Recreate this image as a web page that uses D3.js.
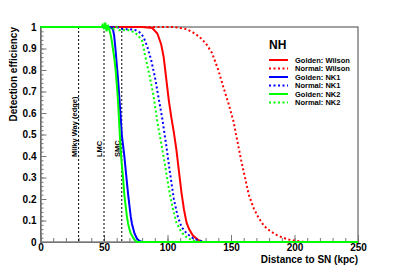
<!DOCTYPE html>
<html>
<head>
<meta charset="utf-8">
<script src="https://cdn.jsdelivr.net/npm/d3@7"></script>
<style>
body { margin: 0; background: #fff; }
text { font-family: "Liberation Sans", Arial, sans-serif; font-weight: bold; }
</style>
</head>
<body>
<script>
// efficiency curves, distance in kpc
var goldenWilsonX = [0, 80, 88, 92, 95, 97, 99, 101, 103, 105, 107, 109, 111, 113, 115, 117, 120, 124, 128, 250];
var goldenWilsonY = [1, 1, 0.995, 0.97, 0.92, 0.86, 0.76, 0.66, 0.58, 0.51, 0.43, 0.33, 0.23, 0.15, 0.09, 0.06, 0.03, 0.01, 0, 0];

var normalWilsonX = [0, 105, 115, 120, 125, 130, 135, 140, 144, 148, 152, 155, 158, 161, 164, 168, 172, 176, 180, 185, 190, 195, 200, 205, 210, 250];
var normalWilsonY = [1, 1, 0.99, 0.975, 0.955, 0.925, 0.88, 0.8, 0.72, 0.645, 0.56, 0.47, 0.38, 0.3, 0.22, 0.155, 0.11, 0.075, 0.055, 0.035, 0.022, 0.012, 0.006, 0.002, 0, 0];

var goldenNK1X = [0, 55, 57, 58, 59, 60, 61, 62, 63, 64, 65, 66, 67, 68, 69, 70, 71, 72, 74, 76, 78, 80, 250];
var goldenNK1Y = [1, 1, 0.99, 0.96, 0.9, 0.83, 0.76, 0.68, 0.59, 0.5, 0.45, 0.4, 0.34, 0.28, 0.22, 0.17, 0.12, 0.085, 0.04, 0.015, 0.005, 0, 0];

var normalNK1X = [0, 60, 65, 70, 75, 78, 81, 84, 87, 90, 93, 96, 99, 102, 105, 108, 111, 115, 120, 125, 130, 250];
var normalNK1Y = [1, 1, 0.99, 0.99, 0.985, 0.975, 0.955, 0.91, 0.85, 0.77, 0.67, 0.57, 0.45, 0.32, 0.2, 0.12, 0.07, 0.04, 0.018, 0.006, 0, 0];

var goldenNK2X = [0, 48, 49, 50, 51, 52, 53, 54, 55, 56, 57, 58, 59, 60, 61, 62, 63, 64, 65, 66, 67, 68, 69, 70, 71, 72, 73, 74, 76, 250];
var goldenNK2Y = [1, 1, 1.01, 0.99, 1.02, 0.98, 1.01, 0.99, 0.97, 0.94, 0.9, 0.86, 0.81, 0.74, 0.66, 0.55, 0.44, 0.36, 0.3, 0.22, 0.17, 0.12, 0.085, 0.06, 0.04, 0.03, 0.02, 0.01, 0, 0];

var normalNK2X = [0, 50, 52, 54, 56, 58, 60, 62, 64, 66, 70, 74, 77, 80, 83, 86, 89, 92, 95, 98, 101, 104, 107, 111, 115, 120, 125, 250];
var normalNK2Y = [1, 1, 1.01, 0.99, 1.0, 0.99, 1.0, 0.985, 0.99, 0.985, 0.985, 0.975, 0.96, 0.935, 0.85, 0.77, 0.68, 0.56, 0.46, 0.36, 0.25, 0.16, 0.09, 0.045, 0.022, 0.005, 0, 0];

var markerX = [30, 50, 64];
var markerNames = ["Milky Way (edge)", "LMC", "SMC"];

var legendNames = ["Golden: Wilson", "Normal: Wilson", "Golden: NK1", "Normal: NK1", "Golden: NK2", "Normal: NK2"];

var xTicks = [0, 50, 100, 150, 200, 250];
var yTicks = [0, 0.1, 0.2, 0.3, 0.4, 0.5, 0.6, 0.7, 0.8, 0.9, 1];

var width = 398, height = 270;

var svg = d3.select("body").append("svg")
    .attr("width", width)
    .attr("height", height);

var x = d3.scaleLinear().domain([0, 250]).range([40.5, 358]);
var y = d3.scaleLinear().domain([0, 1]).range([242, 27]);

// frame
svg.append("rect")
    .attr("x", x(0)).attr("y", y(1))
    .attr("width", x(250) - x(0)).attr("height", y(0) - y(1))
    .attr("fill", "none").attr("stroke", "#444").attr("stroke-width", 1);

// minor ticks
var xMinor = svg.append("g").attr("transform", "translate(0," + y(0) + ")")
    .call(d3.axisBottom(x).tickValues(d3.range(0, 251, 10)).tickSize(-4).tickFormat(""));
var yMinor = svg.append("g").attr("transform", "translate(" + x(0) + ",0)")
    .call(d3.axisLeft(y).tickValues(d3.range(0, 1.001, 0.02)).tickSize(-3).tickFormat(""));

var xAxis = svg.append("g").attr("transform", "translate(0," + y(0) + ")")
    .call(d3.axisBottom(x).tickValues(xTicks).tickSize(-7).tickPadding(2).tickFormat(d3.format("d")));
var yAxis = svg.append("g").attr("transform", "translate(" + x(0) + ",0)")
    .call(d3.axisLeft(y).tickValues(yTicks).tickSize(-6).tickPadding(4).tickFormat(function (d) { return d === 0 || d === 1 ? d3.format("d")(d) : d3.format(".1f")(d); }));

[xMinor, yMinor, xAxis, yAxis].forEach(function (g) {
    g.select(".domain").attr("stroke", "#777");
    g.selectAll(".tick line").attr("stroke", "#777");
});
[xAxis, yAxis].forEach(function (g) {
    g.selectAll(".tick text").attr("fill", "#000").style("font-size", "10px").style("font-family", "Liberation Sans").style("font-weight", "bold");
});
xAxis.selectAll(".tick text").attr("dy", "0.71em");

// axis titles
svg.append("text")
    .attr("x", 358).attr("y", 263)
    .attr("text-anchor", "end")
    .style("font-size", "10px")
    .text("Distance to SN (kpc)");

svg.append("text")
    .attr("transform", "translate(17," + y(1) + ") rotate(-90)")
    .attr("text-anchor", "end")
    .style("font-size", "10px")
    .text("Detection efficiency");

// reference distances
var markers = svg.append("g");
markerX.forEach(function (d, i) {
    markers.append("line")
        .attr("x1", x(d)).attr("x2", x(d))
        .attr("y1", y(1)).attr("y2", y(0))
        .attr("stroke", "#000").attr("stroke-width", 1)
        .attr("stroke-dasharray", "2,2");
    markers.append("text")
        .attr("transform", "translate(" + (x(d) - 2) + "," + y(0.395) + ") rotate(-90)")
        .style("font-size", "7.5px")
        .text(markerNames[i]);
});

var series = [
    { xs: goldenWilsonX, ys: goldenWilsonY, color: "#ff0000", dash: null },
    { xs: normalWilsonX, ys: normalWilsonY, color: "#ff0000", dash: "2,2.5" },
    { xs: goldenNK1X, ys: goldenNK1Y, color: "#0000ff", dash: null },
    { xs: normalNK1X, ys: normalNK1Y, color: "#0000ff", dash: "2,2.5" },
    { xs: goldenNK2X, ys: goldenNK2Y, color: "#00ff00", dash: null },
    { xs: normalNK2X, ys: normalNK2Y, color: "#00ff00", dash: "2,2.5" }
];

var line = d3.line()
    .x(function (d) { return x(d[0]); })
    .y(function (d) { return y(d[1]); });

series.forEach(function (s) {
    var pts = s.xs.map(function (v, i) { return [v, s.ys[i]]; });
    svg.append("path")
        .attr("d", line(pts))
        .attr("fill", "none")
        .attr("stroke", s.color)
        .attr("stroke-width", 2)
        .attr("stroke-dasharray", s.dash);
});

// legend
var legend = svg.append("g");
legend.append("text")
    .attr("x", 269).attr("y", 49)
    .style("font-size", "12px")
    .text("NH");

legendNames.forEach(function (name, i) {
    var ly = 60 + i * 8.5;
    legend.append("line")
        .attr("x1", 269).attr("x2", 288)
        .attr("y1", ly).attr("y2", ly)
        .attr("stroke", series[i].color)
        .attr("stroke-width", 2)
        .attr("stroke-dasharray", series[i].dash);
    legend.append("text")
        .attr("x", 295).attr("y", ly + 2.7)
        .style("font-size", "7.5px")
        .text(name);
});
</script>
</body>
</html>
